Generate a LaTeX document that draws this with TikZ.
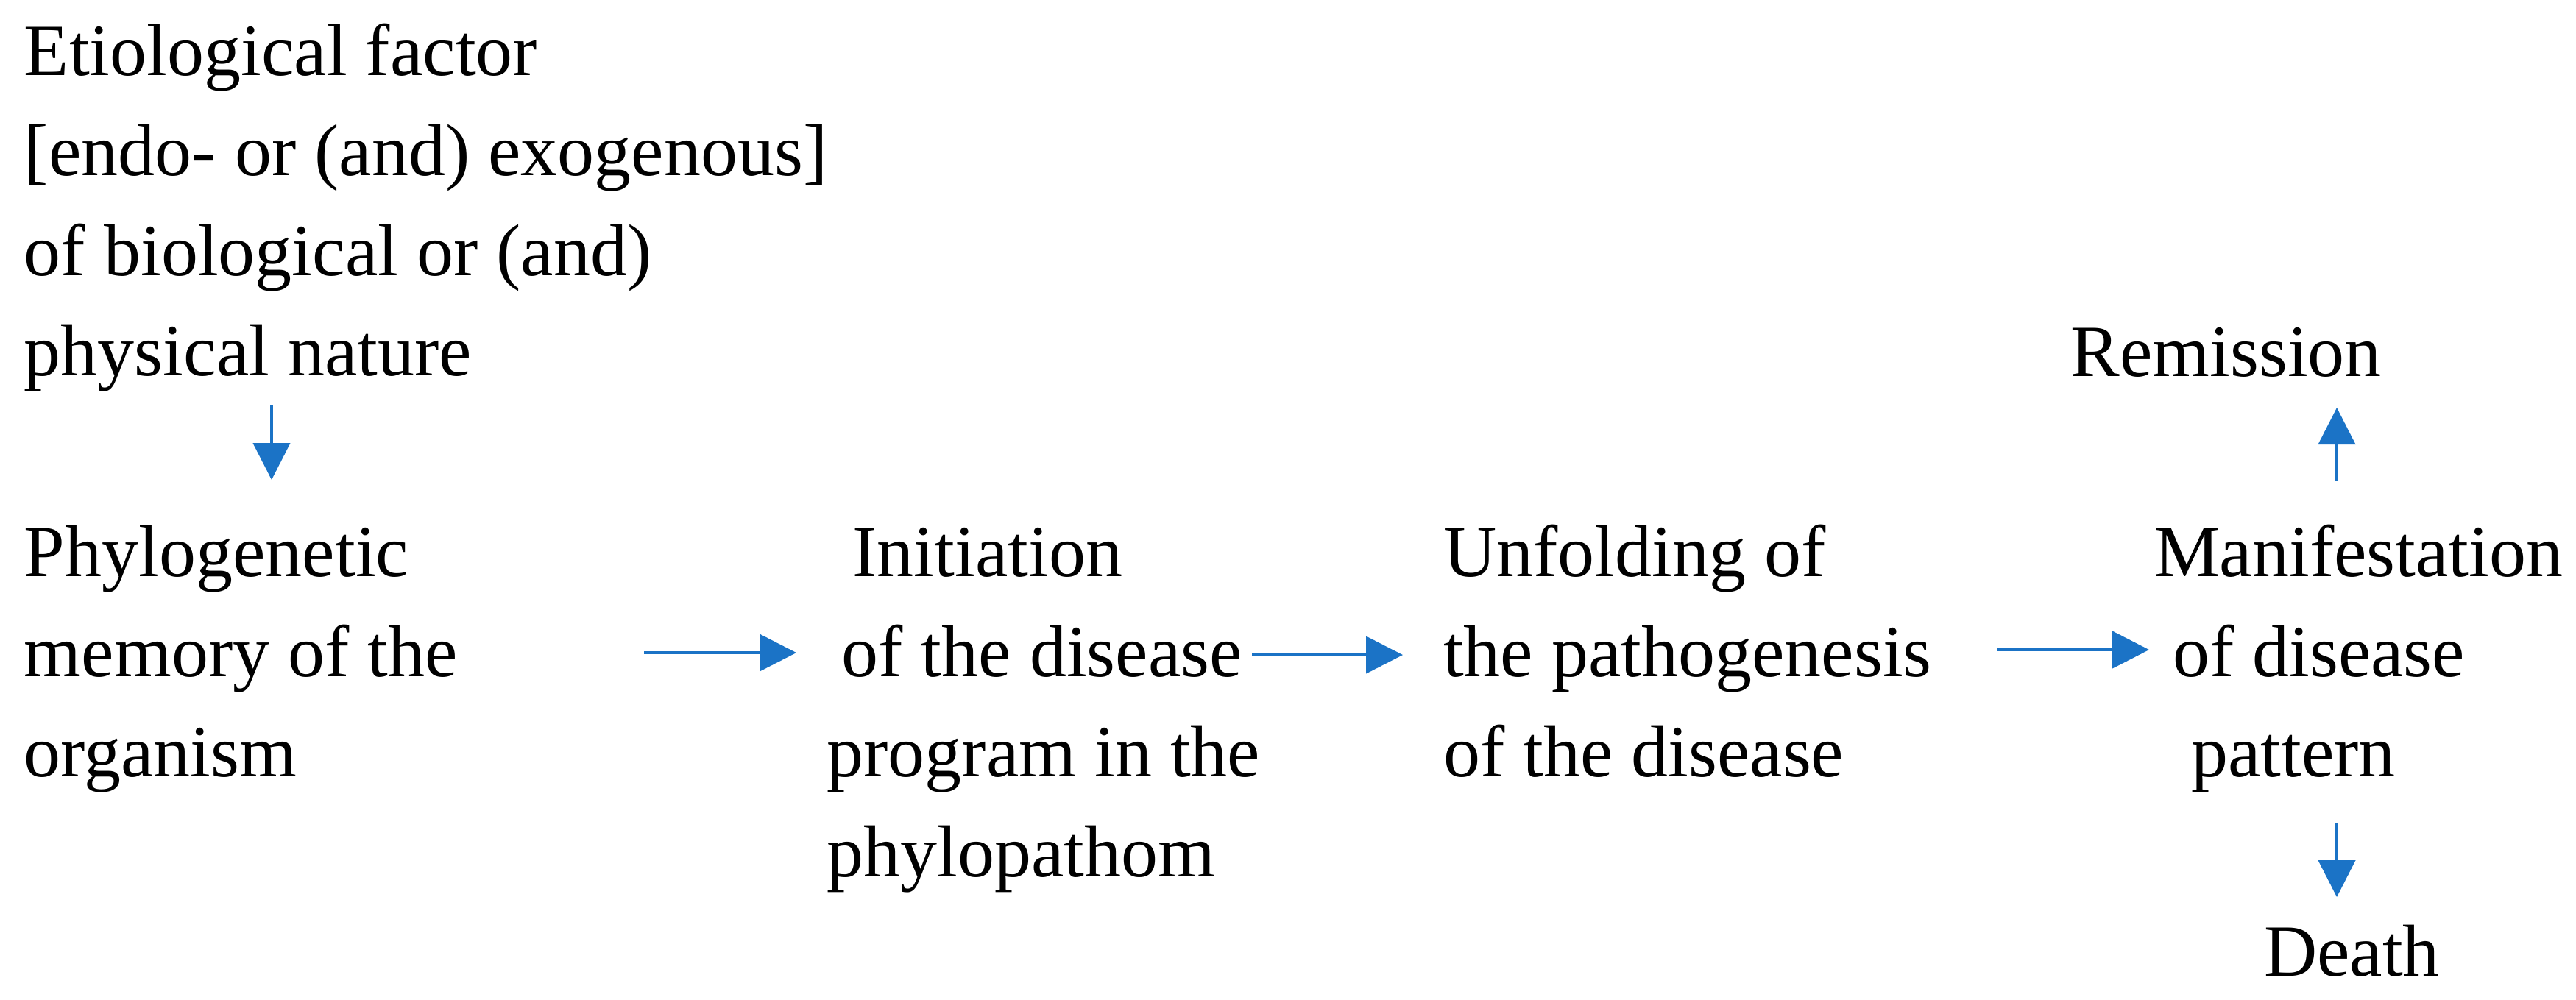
\documentclass[tikz,border=0pt]{standalone}
\usepackage{fontspec}
\setmainfont{Liberation Serif}
\usetikzlibrary{arrows.meta}

\definecolor{flowblue}{RGB}{27,115,198}

\begin{document}
\begin{tikzpicture}[x=1pt,y=1pt,
    >={Triangle[length=10pt,width=10pt]},
    txt/.style={inner sep=0pt,anchor=base west,align=left,
                font=\fontsize{20}{27.2}\selectfont},
    flow/.style={->,draw=flowblue,line width=0.85pt}]
    \useasboundingbox (0,0) rectangle (700,-271.6);

    % base = baseline of the last line
    \node[txt] (etio)  at (6.4,-102)    {Etiological factor\\{[}endo- or (and) exogenous]\\of biological or (and)\\physical nature};
    \node[txt] (phylo) at (6.4,-211)    {Phylogenetic\\memory of the\\organism};
    \node[txt] (init)  at (224.5,-238.2) {\hspace*{.35em}Initiation\\\hspace*{.2em}of the disease\\program in the\\phylopathom};
    \node[txt] (unf)   at (392,-211)    {Unfolding of\\the pathogenesis\\of the disease};
    \node[txt] (manif) at (585.2,-211)  {Manifestation\\\hspace*{.25em}of disease\\\hspace*{.5em}pattern};
    \node[txt] (rem)   at (562.5,-102.2) {Remission};
    \node[txt] (death) at (615,-265.2)  {Death};

    % arrow ends
    \coordinate (e1a) at (73.8,-110.2);  \coordinate (e1b) at (73.8,-130.4);
    \coordinate (e2a) at (175,-177.4);   \coordinate (e2b) at (216.4,-177.4);
    \coordinate (e3a) at (340.2,-178);   \coordinate (e3b) at (381.2,-178);
    \coordinate (e4a) at (542.6,-176.6); \coordinate (e4b) at (584,-176.6);
    \coordinate (e5a) at (635,-130.7);   \coordinate (e5b) at (635,-110.8);
    \coordinate (e6a) at (635,-223.6);   \coordinate (e6b) at (635,-243.8);

    \draw[flow] (e1a) -- (e1b);
    \draw[flow] (e2a) -- (e2b);
    \draw[flow] (e3a) -- (e3b);
    \draw[flow] (e4a) -- (e4b);
    \draw[flow] (e5a) -- (e5b);
    \draw[flow] (e6a) -- (e6b);

\end{tikzpicture}
\end{document}
